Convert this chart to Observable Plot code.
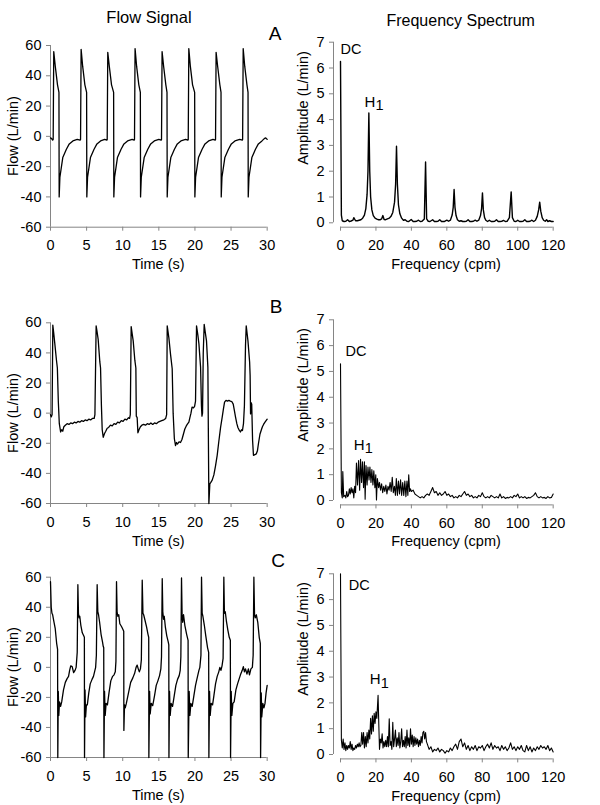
<!DOCTYPE html>
<html>
<head>
<meta charset="utf-8">
<script src="https://cdn.jsdelivr.net/npm/d3@7"></script>
<script src="https://cdn.jsdelivr.net/npm/@observablehq/plot@0.6"></script>
<style>
  html, body { margin: 0; padding: 0; background: #ffffff; }
  #chart { position: relative; width: 600px; height: 805px; background: #ffffff;
           font-family: "Liberation Sans", Arial, Helvetica, sans-serif; color: #000; }
  #chart > svg { position: absolute; }
  .lbl { position: absolute; white-space: nowrap; line-height: 1; transform: translate(-50%, -50%); }
  .rot { transform: translate(-50%, -50%) rotate(-90deg); }
</style>
</head>
<body>
<div id="chart"></div>
<script>
// ---------- tick labels & texts ----------
const flowTicks = [-60, -40, -20, 0, 20, 40, 60];
const timeTicks = [0, 5, 10, 15, 20, 25, 30];
const ampTicks = [0, 1, 2, 3, 4, 5, 6, 7];
const freqTicks = [0, 20, 40, 60, 80, 100, 120];
const panelLetters = ["A", "B", "C"];
const columnTitles = ["Flow Signal", "Frequency Spectrum"];
const flowAxisTitles = ["Flow (L/min)", "Time (s)"];
const specAxisTitles = ["Amplitude (L/min)", "Frequency (cpm)"];

// ---------- flow signals [time (s), flow (L/min)] ----------
const flowA = [
[0,-1],[0.15,-1.5],[0.3,-2.5],[0.37,-2],
[0.45,56],[0.67,46],[0.97,34],[1.17,29],[1.2,-40],[1.3,-27],[1.7,-14],[2.2,-8.5],[2.6,-5],[3.1,-3],[3.7,-2],[4.1,-2.5],
[4.16,-2],[4.24,57.5],[4.46,46],[4.76,34],[5.0,29],[5.03,-40],[5.13,-27],[5.53,-14],[6.03,-8.5],[6.43,-5],[6.93,-3],[7.5,-2],[7.8,-2.5],
[7.85,-2],[7.93,55.5],[8.15,46],[8.45,34],[8.74,29],[8.77,-40],[8.87,-27],[9.27,-14],[9.77,-8.5],[10.17,-5],[10.67,-3],[11.3,-2],[11.58,-2.5],
[11.63,-2],[11.71,58],[11.93,46],[12.23,34],[12.44,29],[12.47,-40],[12.57,-27],[12.97,-14],[13.47,-8.5],[13.87,-5],[14.37,-3],[15.0,-2],[15.32,-2.5],
[15.37,-2],[15.45,56],[15.67,46],[15.97,34],[16.13,29],[16.16,-40],[16.26,-27],[16.66,-14],[17.16,-8.5],[17.56,-5],[18.06,-3],[18.7,-2],[19.02,-2.5],
[19.07,-2],[19.15,58],[19.37,46],[19.67,34],[19.96,29],[19.99,-40],[20.09,-27],[20.49,-14],[20.99,-8.5],[21.39,-5],[21.89,-3],[22.5,-2],[22.8,-2.5],
[22.85,-2],[22.93,55.5],[23.15,46],[23.45,34],[23.61,29],[23.64,-40],[23.74,-27],[24.14,-14],[24.64,-8.5],[25.04,-5],[25.54,-3],[26.2,-2],[26.55,-2.5],
[26.6,-2],[26.68,58],[26.9,46],[27.2,34],[27.35,29],[27.38,-40],[27.48,-27],[27.88,-14],[28.38,-8.5],[28.78,-5],[29.28,-3],[29.6,-1.5],[29.8,-1],[30,-2]
];

const flowB = [
[0,-1],[0.12,-2.5],[0.22,-1],[0.32,58.5],[0.45,53],[0.6,46],[0.83,35],[0.95,30],[1.08,8],[1.22,-7],[1.4,-12.5],[1.55,-11],[1.7,-12],[1.85,-9],[2.05,-8],[2.3,-7],[2.55,-7.5],[2.8,-6.5],[3.05,-7],[3.3,-6],[3.55,-6.5],[3.8,-5.5],[4.05,-6],[4.3,-5],[4.55,-5.5],[4.8,-4.5],[5.05,-5],[5.3,-4],[5.55,-4.5],[5.8,-3.5],[6.05,-3.5],[6.15,-1],
[6.32,58],[6.45,54],[6.6,49],[6.83,34],[6.93,30],[7.05,5],[7.16,-11],[7.3,-16],[7.48,-13.5],[7.65,-12],[7.85,-10],[8.05,-9.5],[8.3,-8],[8.55,-8.5],[8.8,-7],[9.05,-7.5],[9.3,-6],[9.55,-6.5],[9.8,-5],[10.05,-5.5],[10.3,-4],[10.55,-4.5],[10.8,-3],[10.95,-3.5],[11.05,-1],
[11.17,57.5],[11.3,53],[11.45,48],[11.68,35],[11.82,30],[11.88,-2],[12.0,-3],[12.1,-13],[12.25,-11],[12.45,-9],[12.65,-8],[12.9,-7.5],[13.15,-8],[13.4,-7],[13.65,-7.5],[13.9,-6.5],[14.15,-7.5],[14.4,-6.5],[14.65,-7],[14.9,-6],[15.15,-5.5],[15.4,-5],[15.7,-4.4],[15.95,-3.5],[16.08,-1],
[16.16,58],[16.39,50],[16.62,39],[16.85,29.5],[16.98,0],[17.15,-17],[17.31,-21.5],[17.45,-19.5],[17.6,-20.5],[17.8,-19],[18.0,-19.5],[18.2,-17.5],[18.4,-14],[18.6,-10.5],[18.8,-8.5],[19.0,-7],[19.16,-6],[19.3,-3],[19.45,0],[19.6,4],[19.8,3.5],[19.95,4.5],[20.08,8],
[20.22,58],[20.4,52],[20.55,46],[20.78,30.5],[20.9,5],[20.97,-2],[21.05,0],[21.15,40],[21.28,59],[21.45,53],[21.6,48],[21.79,30.5],[21.93,-60],
[22.06,-47],[22.2,-46],[22.39,-44.5],[22.62,-41],[22.85,-35],[23.08,-28],[23.3,-19],[23.55,-9.5],[23.78,-2.5],[23.95,3],[24.1,7.3],[24.3,8.5],[24.5,8],[24.7,8.5],[24.9,8],[25.1,7.7],[25.3,6],[25.45,2],[25.62,-2.6],[25.8,-7],[25.95,-9.5],[26.15,-11.5],[26.3,-12.5],[26.45,-11],[26.58,-11.5],[26.72,-7],[26.85,5],
[27.0,45],[27.1,58],[27.22,53],[27.34,48],[27.57,34],[27.64,25],[27.7,-0.5],[27.78,7],[27.86,6],[27.98,-18],[28.1,-28],[28.3,-27.5],[28.5,-27],[28.65,-25],[28.8,-20],[29.0,-14],[29.2,-11],[29.34,-9],[29.5,-7.5],[29.7,-6],[29.85,-5],[30,-4]
];

const flowC = [
[0,57],[0.1,40],[0.2,36],[0.3,35],[0.45,31],[0.65,26],[0.85,16],[0.98,12],[1.01,-60],
[1.08,-16],[1.15,-32],[1.25,-23],[1.4,-26],[1.55,-23],[1.8,-15],[2.05,-10],[2.3,-7.5],[2.5,-6],[2.65,-2],[2.8,1],[3.0,0.5],[3.2,-3.5],[3.4,-2],[3.55,0],[3.7,10],
[3.79,55],[3.87,36],[3.95,33],[4.05,34],[4.2,28],[4.4,23],[4.6,21],[4.69,20],[4.71,-60],
[4.78,-15],[4.86,-33],[4.97,-25],[5.1,-25],[5.3,-17],[5.5,-11],[5.75,-8],[5.95,-6],[6.1,-3],[6.25,0],[6.35,8],
[6.46,55],[6.55,37],[6.65,35],[6.8,30],[7.0,22],[7.2,17],[7.3,14],[7.37,13],[7.4,-60],
[7.48,-16],[7.57,-32],[7.7,-24],[7.88,-25],[8.1,-17],[8.35,-9],[8.6,-6],[8.8,-5],[8.97,-3],[9.06,4],
[9.14,57],[9.22,37],[9.32,34],[9.45,35],[9.6,29],[9.85,27],[10.05,25],[10.14,24],[10.16,-42],
[10.25,-25],[10.35,-27],[10.5,-24],[10.8,-17],[11.1,-10],[11.4,-7],[11.65,-4],[11.85,0],[12.0,1.5],[12.15,-1],[12.3,-3],[12.45,-1],[12.58,5],
[12.7,58],[12.8,36],[12.9,35],[13.05,32],[13.3,27],[13.5,22],[13.6,20],[13.62,-60],
[13.72,-16],[13.8,-31],[13.95,-24],[14.15,-25.5],[14.4,-19],[14.64,-12],[14.87,-9],[15.1,-5.5],[15.28,-1],[15.37,7],
[15.47,59],[15.55,37],[15.65,32],[15.75,34],[15.9,27],[16.1,21],[16.3,17],[16.38,15],[16.4,-60],
[16.48,-16],[16.57,-32],[16.71,-24],[16.9,-26],[17.13,-19],[17.36,-12],[17.59,-8],[17.82,-5.5],[17.96,-2],[18.05,7],
[18.14,59.5],[18.22,35],[18.3,30],[18.42,35],[18.6,28],[18.85,22],[19.0,19],[19.05,18],[19.07,-60],
[19.2,-16],[19.3,-32],[19.44,-24],[19.62,-26],[19.85,-19],[20.08,-12],[20.31,-7],[20.55,-2],[20.68,0],[20.83,8],
[20.91,60],[21.0,36],[21.1,34],[21.3,28],[21.5,21],[21.75,13],[21.9,10],[21.93,-60],
[22.02,-16],[22.11,-32],[22.25,-24],[22.44,-25],[22.62,-19],[22.85,-11],[23.08,-6],[23.3,-3],[23.45,0],[23.6,-2],[23.75,1],[23.9,6],
[24.0,60],[24.08,36],[24.2,37],[24.35,31],[24.55,25],[24.75,20],[24.9,18],[24.93,-60],
[25.02,-16],[25.11,-32],[25.25,-24],[25.43,-23],[25.67,-15],[25.9,-11],[26.1,-8],[26.3,-5],[26.55,-2],[26.7,0.5],[26.85,-3],[27.0,-1],[27.2,-4.5],[27.4,-1],[27.55,-5],[27.75,-1],[27.95,0],[28.06,8],
[28.16,60],[28.25,35],[28.35,33],[28.5,35],[28.7,30],[28.9,20],[29.05,16],[29.09,-60],
[29.18,-17],[29.25,-33],[29.4,-24],[29.55,-27],[29.7,-24],[29.85,-17],[30,-12]
];

// ---------- spectra [frequency (cpm), amplitude (L/min)] ----------
const spectrumA = [
[0,6.25],[0.5,0.3],[1,0.08],[2,0.05],[3,0.06],[4,0.12],[5,0.05],[6,0.07],[7,0.1],[7.5,0.2],[8.5,0.08],[9.5,0.08],[10.5,0.1],[11.5,0.12],[12.5,0.18],[13.5,0.3],[14.3,0.55],[15,1.1],[15.5,2.0],[16,4.26],[16.5,2.0],[17,1.0],[17.7,0.5],[18.5,0.28],[19.5,0.18],[20.5,0.14],[21.5,0.12],[22.5,0.12],[23.2,0.15],[23.9,0.28],[24.6,0.13],[25.5,0.12],[26.5,0.15],[27.5,0.18],[28.5,0.25],[29.5,0.4],[30.5,0.8],[31.1,1.5],[31.6,2.97],[32.1,1.5],[32.7,0.7],[33.5,0.35],[34.5,0.18],[35.5,0.1],[36.5,0.12],[37.5,0.06],[38.5,0.05],[39.9,0.13],[41,0.05],[42,0.05],[43,0.06],[44,0.1],[45,0.05],[46,0.06],[47.3,0.15],[48,2.36],[48.6,0.15],[49.5,0.06],[50.5,0.05],[52,0.12],[53,0.05],[54,0.05],[55,0.06],[56,0.12],[57,0.05],[58.5,0.05],[60,0.1],[61,0.06],[62,0.1],[63,0.3],[63.6,0.6],[64.1,1.29],[64.6,0.6],[65.2,0.28],[66,0.12],[67,0.06],[68,0.08],[69,0.05],[70,0.05],[71,0.06],[72,0.12],[73,0.05],[74,0.05],[75,0.06],[76,0.1],[77,0.06],[78,0.1],[79,0.28],[79.6,0.55],[80.1,1.16],[80.6,0.5],[81.3,0.2],[82,0.1],[83,0.05],[84,0.1],[85,0.05],[86,0.05],[87,0.06],[88,0.12],[89,0.05],[90,0.05],[91,0.06],[92,0.09],[93,0.05],[94,0.06],[95.3,0.2],[96.3,1.2],[97,0.2],[98,0.06],[99,0.05],[100,0.1],[101,0.05],[102,0.05],[103,0.06],[104,0.12],[105,0.05],[106,0.05],[107,0.06],[108,0.1],[109,0.05],[110,0.1],[111,0.25],[111.8,0.5],[112.4,0.8],[113,0.45],[113.8,0.2],[114.6,0.1],[115.5,0.06],[116.3,0.12],[117,0.05],[118,0.08],[119,0.05],[120,0.05]
];

const spectrumB = [
[0,5.3],[0.5,0.3],[1,0.1],[1.3,1.12],[1.8,0.15],[2.5,0.2],[3,0.1],[3.5,0.35],[4,0.15],[4.5,0.2],[5,0.45],[5.5,0.25],[6,0.5],[6.5,0.3],[7,0.45],[7.5,0.1],[8,0.55],[8.5,0.3],[9,1.45],[9.6,0.6],[10.2,1.55],[10.8,0.4],[11.3,1.6],[11.9,0.7],[12.4,1.5],[13.0,0.5],[13.5,1.5],[13.9,0.05],[14.4,1.35],[15.0,0.6],[15.5,1.3],[16.1,0.8],[16.6,1.3],[17.2,0.7],[17.7,1.2],[18.3,0.6],[18.8,1.15],[19.4,0.5],[19.9,1.0],[20.3,0.02],[20.8,0.85],[21.5,0.5],[22,0.7],[22.6,0.4],[23.2,0.65],[23.8,0.3],[24.4,0.55],[25,0.35],[25.6,0.6],[26.2,0.25],[26.8,0.55],[27.4,0.4],[28,0.7],[28.6,0.35],[29.2,0.9],[29.8,0.3],[30.4,0.55],[31,0.2],[31.5,0.85],[32.1,0.2],[32.7,0.75],[33.3,0.25],[33.9,0.8],[34.5,0.2],[35.1,0.7],[35.7,0.2],[36.3,0.75],[36.9,0.15],[37.5,0.75],[38.0,0.2],[38.5,1.0],[39,0.35],[39.5,0.45],[40,0.35],[41,0.4],[42,0.25],[43,0.2],[44,0.15],[45,0.1],[46,0.15],[47,0.1],[48,0.2],[49,0.25],[50,0.2],[51,0.35],[52,0.5],[53,0.3],[54,0.35],[55,0.2],[56,0.3],[57,0.2],[58,0.25],[59,0.35],[60,0.2],[61,0.25],[62,0.15],[63,0.2],[64,0.1],[65,0.15],[66,0.1],[67,0.2],[68,0.15],[69,0.25],[70,0.35],[71,0.2],[72,0.25],[73,0.15],[74,0.2],[75,0.1],[76,0.15],[77,0.1],[78,0.2],[79,0.15],[80,0.3],[81,0.15],[82,0.1],[83,0.15],[84,0.1],[85,0.2],[86,0.15],[87,0.1],[88,0.15],[89,0.1],[90,0.25],[91,0.1],[92,0.15],[93,0.08],[94,0.12],[95,0.1],[96,0.15],[97,0.1],[98,0.2],[99,0.15],[100,0.25],[101,0.1],[102,0.15],[103,0.1],[104,0.15],[105,0.08],[106,0.12],[107,0.1],[108,0.15],[109,0.2],[110,0.3],[111,0.15],[112,0.1],[113,0.15],[114,0.1],[115,0.12],[116,0.08],[117,0.15],[118,0.1],[119,0.12],[120,0.25]
];

const spectrumC = [
[0,7],[0.5,0.55],[1,0.25],[1.5,0.6],[2,0.2],[2.5,0.45],[3,0.15],[3.5,0.35],[4,0.2],[4.5,0.35],[5,0.25],[5.5,0.5],[6,0.2],[6.5,0.4],[7,0.15],[7.5,0.25],[8,0.2],[8.5,0.35],[9,0.25],[9.5,0.4],[10,0.3],[10.5,0.45],[11,0.3],[11.5,0.35],[12,0.85],[12.5,0.4],[13,0.85],[13.5,0.25],[14,0.7],[14.5,0.3],[15,0.85],[15.5,0.45],[16,0.95],[16.5,0.6],[17,1.4],[17.5,0.8],[18,1.5],[18.5,0.9],[19,1.6],[19.5,1.2],[20,1.65],[20.5,1.4],[21.2,2.29],[21.6,1.2],[22,0.2],[22.5,0.6],[23,0.45],[23.5,0.8],[24,0.25],[24.5,0.5],[25,0.3],[25.5,0.55],[26,0.3],[26.5,0.7],[27,0.3],[27.5,1.38],[28,0.35],[28.5,0.5],[29,0.2],[29.5,1.25],[30,0.3],[30.5,0.6],[31,0.95],[31.5,0.3],[32,0.65],[32.5,0.35],[33,0.85],[33.5,0.25],[34,0.5],[34.5,1.0],[35,0.3],[35.5,0.55],[36,0.3],[36.5,0.7],[37,0.25],[37.5,0.95],[38,0.35],[38.5,0.65],[39,0.3],[39.5,1.0],[40,0.4],[40.5,0.75],[41,0.3],[41.5,0.7],[42,0.35],[42.5,0.65],[43,0.4],[43.5,0.6],[44,0.3],[44.5,0.55],[45,0.35],[45.5,0.7],[46,0.45],[46.5,0.85],[47,0.9],[47.5,0.6],[48,0.85],[48.5,0.5],[49,0.4],[50,0.2],[51,0.3],[52,0.1],[53,0.2],[54,0.15],[55,0.25],[56,0.1],[57,0.2],[58,0.15],[59,0.05],[60,0.15],[61,0.1],[62,0.25],[63,0.15],[64,0.3],[65,0.4],[66,0.2],[67,0.5],[68,0.6],[69,0.3],[70,0.45],[71,0.2],[72,0.35],[73,0.15],[74,0.3],[75,0.2],[76,0.35],[77,0.15],[78,0.3],[79,0.25],[80,0.35],[81,0.15],[82,0.3],[83,0.4],[84,0.25],[85,0.45],[86,0.2],[87,0.35],[88,0.25],[89,0.3],[90,0.15],[91,0.35],[92,0.2],[93,0.3],[94,0.15],[95,0.25],[96,0.45],[97,0.2],[98,0.3],[99,0.15],[100,0.3],[101,0.2],[102,0.35],[103,0.15],[104,0.1],[105,0.35],[106,0.15],[107,0.3],[108,0.1],[109,0.25],[110,0.15],[111,0.3],[112,0.2],[113,0.35],[114,0.25],[115,0.3],[116,0.2],[117,0.35],[118,0.15],[119,0.25],[120,0.1]
];

// annotation anchors in data units (frequency, amplitude)
const dcLabels = [{f: 0, a: 6.74}, {f: 2.8, a: 5.78}, {f: 4.7, a: 6.56}];
const h1Labels = [{f: 13.5, a: 4.69}, {f: 7.5, a: 2.14}, {f: 16.5, a: 2.91}];

// ---------- layout ----------
const axisGray = "#858585";
const chart = document.getElementById("chart");

function place(svg, left, top) {
  svg.style.left = left + "px";
  svg.style.top = top + "px";
  chart.appendChild(svg);
}
function label(text, cx, cy, size, rotated) {
  const d = document.createElement("div");
  d.className = "lbl" + (rotated ? " rot" : "");
  d.textContent = text;
  d.style.left = cx + "px";
  d.style.top = cy + "px";
  d.style.fontSize = size + "px";
  chart.appendChild(d);
}

const baseStyle = {fontFamily: '"Liberation Sans", Arial, Helvetica, sans-serif', fontSize: "14.5px", color: "black", background: "transparent", overflow: "visible"};
const fmt = d => String(d);

function flowPanel(data, top, height, yTop, yBottom) {
  const mt = yTop - top, fb = yBottom - top;
  return Plot.plot({
    width: 290, height,
    marginLeft: 50, marginRight: 290 - 266.67, marginTop: mt, marginBottom: height - fb,
    x: {domain: [0, 30], range: [50, 266.67]},
    y: {domain: [-60, 60], range: [fb, mt]},
    style: baseStyle,
    marks: [
      Plot.ruleY([-60], {x1: 0, x2: 30, stroke: axisGray}),
      Plot.ruleX([0], {y1: -60, y2: 60, stroke: axisGray}),
      Plot.axisY({ticks: flowTicks, tickSize: 4, tickPadding: 5, tickFormat: fmt, stroke: axisGray, fill: "black", label: null}),
      Plot.axisX({ticks: timeTicks, tickSize: 4, tickPadding: 9, tickFormat: fmt, stroke: axisGray, fill: "black", label: null}),
      Plot.line(data, {x: d => d[0], y: d => d[1], stroke: "black", strokeWidth: 1.3})
    ]
  });
}

function specPanel(data, top, height, y7, y0, dc, h1, sw) {
  const mt = y7 - top, zb = y0 - top, fb = zb + 4.4;
  return Plot.plot({
    width: 310, height,
    marginLeft: 43, marginRight: 310 - 262.67, marginTop: mt, marginBottom: height - fb,
    x: {domain: [0, 120], range: [50, 262.67]},
    y: {domain: [0, 7], range: [zb, mt]},
    style: baseStyle,
    marks: [
      Plot.ruleX([0], {y1: 0, y2: 7, dx: -7, stroke: axisGray}),
      Plot.ruleY([0], {x1: 0, x2: 120, dy: 4.4, stroke: axisGray}),
      Plot.axisY({ticks: ampTicks, tickSize: 4, tickPadding: 5, tickFormat: fmt, stroke: axisGray, fill: "black", label: null}),
      Plot.axisX({ticks: freqTicks, tickSize: 4, tickPadding: 9, tickFormat: fmt, stroke: axisGray, fill: "black", label: null}),
      Plot.line(data, {x: d => d[0], y: d => d[1], stroke: "black", strokeWidth: sw}),
      Plot.text([dc], {x: "f", y: "a", text: () => "DC", textAnchor: "start", lineAnchor: "middle", fontSize: 14.5}),
      Plot.text([h1], {x: "f", y: "a", text: () => "H", textAnchor: "start", lineAnchor: "middle", fontSize: 15}),
      Plot.text([h1], {x: "f", y: "a", text: () => "1", textAnchor: "start", lineAnchor: "middle", dx: 11, dy: 3.5, fontSize: 14.5})
    ]
  });
}

// Row A
place(flowPanel(flowA, 0, 280, 45, 226.7), 0, 0);
place(specPanel(spectrumA, 0, 280, 41.7, 222.3, dcLabels[0], h1Labels[0], 1.4), 290, 0);
// Row B
place(flowPanel(flowB, 280, 262, 322.3, 503), 0, 280);
place(specPanel(spectrumB, 280, 262, 319.3, 500, dcLabels[1], h1Labels[1], 1.1), 290, 280);
// Row C
place(flowPanel(flowC, 542, 263, 576.7, 757), 0, 542);
place(specPanel(spectrumC, 542, 263, 573.3, 754, dcLabels[2], h1Labels[2], 1.1), 290, 542);

// titles, panel letters, axis titles
label(columnTitles[0], 149, 16.5, 16.5);
label(columnTitles[1], 460.7, 20.5, 16);
label(panelLetters[0], 275, 32.7, 19);
label(panelLetters[1], 276, 306, 19);
label(panelLetters[2], 278, 559.7, 19);
[135.8, 412.7, 666.8].forEach(cy => label(flowAxisTitles[0], 13.3, cy, 14.5, true));
[264.3, 541, 795].forEach(cy => label(flowAxisTitles[1], 158.3, cy, 14.5));
[107.5, 385, 639].forEach(cy => label(specAxisTitles[0], 303, cy, 14.5, true));
[264.3, 541, 796].forEach(cy => label(specAxisTitles[1], 446, cy, 14.5));
</script>
</body>
</html>
